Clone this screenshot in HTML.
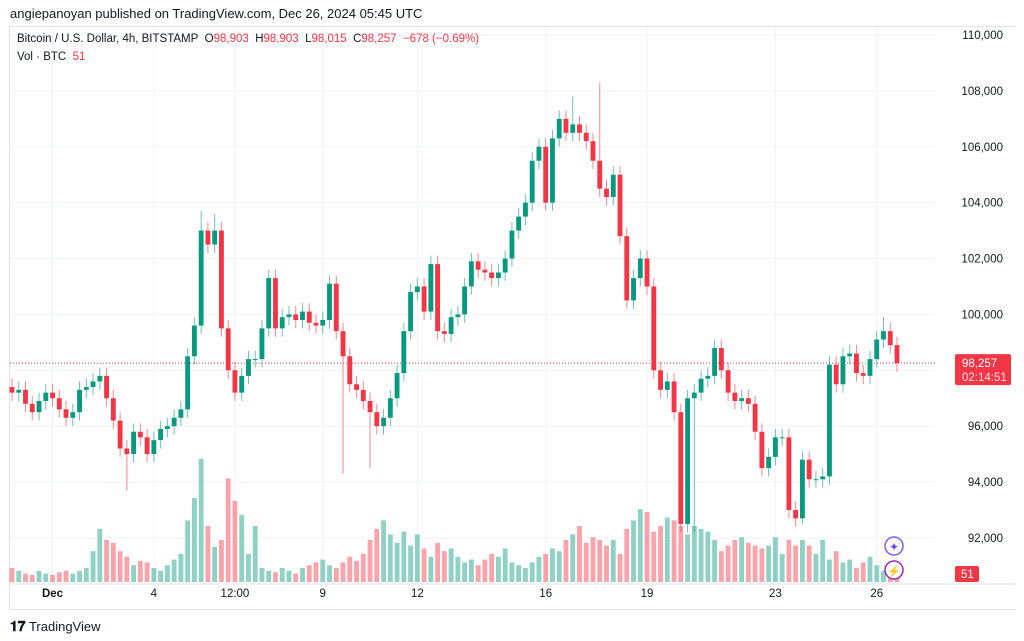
<!DOCTYPE html>
<html><head><meta charset="utf-8"><style>
body{margin:0;width:1024px;height:641px;background:#fff;font-family:"Liberation Sans",sans-serif;overflow:hidden;position:relative}
.t{position:absolute;white-space:nowrap}
</style></head><body>
<div class="t" style="left:10px;top:6px;font-size:13px;color:#131722">angiepanoyan published on TradingView.com, Dec 26, 2024 05:45 UTC</div>
<div style="position:absolute;left:9px;top:26px;width:1006px;height:582px;border:1px solid #e0e3eb;border-right:none"></div>
<svg id="c" width="1024" height="641" style="position:absolute;left:0;top:0"></svg>
<div class="t" style="left:17px;top:33px;font-size:11.5px;color:#131722">Bitcoin / U.S. Dollar, 4h, BITSTAMP&nbsp; O<span style="color:#f23645">98,903</span>&nbsp; H<span style="color:#f23645">98,903</span>&nbsp; L<span style="color:#f23645">98,015</span>&nbsp; C<span style="color:#f23645">98,257&nbsp; −678 (−0.69%)</span></div>
<div class="t" style="left:17px;top:51px;font-size:11.5px;color:#131722">Vol · BTC&nbsp; <span style="color:#f23645">51</span></div>
<div class="t" style="left:10px;top:618px;font-size:13px;color:#131722"><b style="font-size:14px">𝟏𝟕</b> TradingView</div>
<script>
const closes=[97.2,97.3,96.8,96.5,96.9,97.2,97.0,96.6,96.3,96.5,97.3,97.4,97.6,97.8,
97.0,96.2,95.2,95.0,95.8,95.6,95.0,95.5,95.9,96.0,
96.3,96.6,98.5,99.6,103.0,102.5,103.0,99.5,98.0,97.2,
97.8,98.4,98.4,99.5,101.3,99.5,99.9,100.0,99.8,100.1,
99.7,99.6,99.8,101.1,99.4,98.5,97.5,97.3,96.9,96.5,
96.0,96.3,97.0,97.9,99.4,100.8,101.0,100.1,101.8,99.4,
99.3,99.9,100.0,101.0,101.9,101.6,101.5,101.3,101.5,102.0,
103.0,103.5,104.0,105.5,106.0,104.0,106.3,107.0,106.5,106.8,
106.5,106.2,105.5,104.5,104.2,105.0,102.8,100.5,101.3,102.0,
101.0,98.0,97.3,97.6,96.5,92.5,97.0,97.2,97.7,97.8,
98.8,98.0,97.2,96.9,97.0,96.8,95.8,94.5,94.9,95.6,
95.6,93.0,92.7,94.8,94.1,94.1,94.2,98.2,97.5,98.5,
98.6,97.9,97.8,98.4,99.1,99.4,98.9,98.257];
const firstOpen=97.4;
const wickBase=0.3;
const highOverrides={28:103.7,30:103.6,83:107.8,87:108.3,129:99.9};
const lowOverrides={17:93.7,49:94.3,53:94.5,101:92.2,117:92.5};
const volumes=[10,8,6,5,8,6,5,7,8,6,8,10,22,38,30,28,22,18,12,15,14,10,8,12,16,20,44,60,88,40,25,30,74,58,48,20,40,10,8,7,10,8,6,10,12,14,16,12,10,14,18,15,20,30,38,44,34,28,36,26,34,24,18,28,22,24,18,14,16,12,16,20,18,24,14,12,10,14,18,20,24,22,30,34,40,28,32,30,26,30,20,38,44,52,50,36,40,46,44,40,34,40,38,36,30,22,26,30,32,28,26,24,26,32,20,30,26,30,26,20,30,16,22,14,16,10,14,18,12,8,10,5];
const priceTicks=[92000,94000,96000,98000,100000,102000,104000,106000,108000,110000];
const timeLabels=["Dec","4","12:00","9","12","16","19","23","26"];
const timeIdx=[6,21,33,46,60,79,94,113,128];

const svg=document.getElementById('c');const NS='http://www.w3.org/2000/svg';
function mk(t,a){const e=document.createElementNS(NS,t);for(const k in a)e.setAttribute(k,a[k]);svg.appendChild(e);return e;}
const y=p=>35+(110-p)*27.94;
const x0=12,x1=897,n=closes.length;
const x=i=>x0+i*(x1-x0)/(n-1);
const vy=v=>582-v*1.4;
priceTicks.forEach(p=>{const g=mk('line',{x1:10,x2:935,y1:y(p/1000),y2:y(p/1000),stroke:'#f0f3fa'});

if(p>=92000){const t=mk('text',{x:1003,y:y(p/1000)+4,'font-size':11.5,'text-anchor':'end',fill:'#131722'});t.textContent=p.toLocaleString('en-US');
}});
timeLabels.forEach((l,k)=>{const xx=x(timeIdx[k]);const g=mk('line',{x1:xx,x2:xx,y1:27,y2:584,stroke:'#f0f3fa'});

const t=mk('text',{x:xx,y:597,'font-size':11.5,'text-anchor':'middle',fill:'#131722','font-weight':l==='Dec'?'bold':'normal'});t.textContent=l;
});
const ax=mk('line',{x1:10,x2:1015,y1:584,y2:584,stroke:'#e0e3eb'});

const bw=(x1-x0)/(n-1)*0.72;
for(let i=0;i<Math.min(n,volumes.length);i++){const o=i?closes[i-1]:firstOpen;const up=closes[i]>=o;
const r=mk('rect',{x:x(i)-bw/2,y:vy(volumes[i]),width:bw,height:582-vy(volumes[i]),fill:up?'rgba(8,153,129,0.45)':'rgba(242,54,69,0.45)'});
}
const last=closes[n-1];
const pl=mk('line',{x1:10,x2:935,y1:y(last),y2:y(last),stroke:'#f23645','stroke-dasharray':'1 2','stroke-width':1});

for(let i=0;i<n;i++){const o=i?closes[i-1]:firstOpen,c=closes[i];const up=c>=o;const col=up?'#089981':'#f23645';
const hi=highOverrides[i]!==undefined?highOverrides[i]:Math.max(o,c)+wickBase;
const lo=lowOverrides[i]!==undefined?lowOverrides[i]:Math.min(o,c)-wickBase;
const w=mk('line',{x1:x(i),x2:x(i),y1:y(hi),y2:y(lo),stroke:col,'stroke-opacity':0.6});

const b=mk('rect',{x:x(i)-bw/2,y:y(Math.max(o,c)),width:bw,height:Math.max(1,Math.abs(y(o)-y(c))),fill:col});
}
const lb=mk('rect',{x:955,y:y(last)-9,width:56,height:31,rx:2,fill:'#f23645'});

const lt=mk('text',{x:962,y:y(last)+4,'font-size':11.5,fill:'#fff'});
lt.textContent='98,257';
const ct=mk('text',{x:962,y:y(last)+18,'font-size':11.5,fill:'#fde0e3'});ct.textContent='02:14:51';

const vb=mk('rect',{x:955,y:566,width:24,height:16,rx:2,fill:'#f23645'});

const vt=mk('text',{x:961,y:578,'font-size':11.5,fill:'#fff'});vt.textContent='51';

const i1=mk('circle',{cx:894,cy:546,r:9,fill:'#fff',stroke:'#7b5cff','stroke-width':1.5});

const s1=mk('text',{x:894,y:551,'font-size':12,'text-anchor':'middle',fill:'#6a4cff'});s1.textContent='✦';

const i2=mk('circle',{cx:894,cy:570,r:9,fill:'#fff',stroke:'#9c27b0','stroke-width':1.5});

const s2=mk('text',{x:894,y:575,'font-size':11,'text-anchor':'middle',fill:'#9c27b0'});s2.textContent='⚡';

</script>
</body></html>
